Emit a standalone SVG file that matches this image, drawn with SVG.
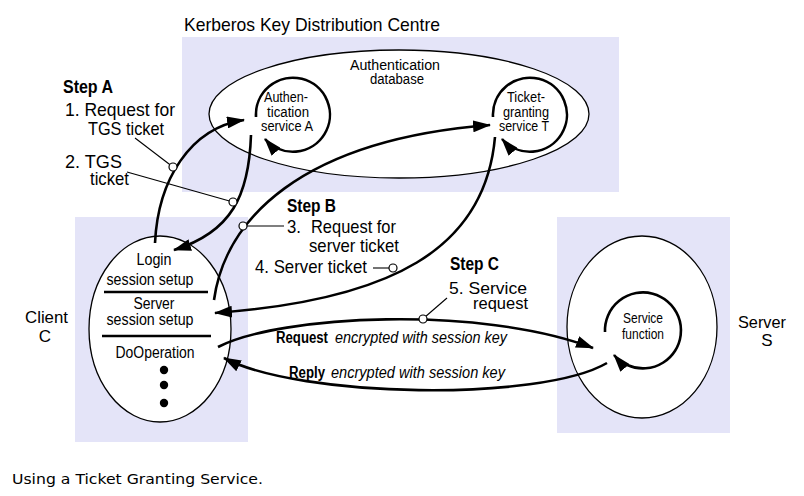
<svg xmlns="http://www.w3.org/2000/svg" width="804" height="496" viewBox="0 0 804 496">
<defs>
<marker id="ah" markerUnits="userSpaceOnUse" markerWidth="18" markerHeight="12" refX="17" refY="6" orient="auto">
<path d="M0,0 L18,6 L0,12 z" fill="#000"/>
</marker>
<style>
.box{fill:#e4e4f8;stroke:none}
.ell{fill:#fff;stroke:#000;stroke-width:1.3}
.arr{fill:none;stroke:#000;stroke-width:2.6;marker-end:url(#ah)}
.lead{fill:none;stroke:#000;stroke-width:1.1}
.sm{fill:#fff;stroke:#000;stroke-width:1.2}
text{font-family:"Liberation Sans",Arial,sans-serif;fill:#000}
.t19{font-size:19px}
.t17{font-size:17px}
.t16{font-size:16px}
.t14{font-size:14px}
.b{font-weight:bold}
.i{font-style:italic}
.mid{text-anchor:middle}
</style>
</defs>
<rect width="804" height="496" fill="#fff"/>

<g id="kdc">
<rect class="box" x="182" y="37" width="437" height="155"/>
<text class="t19" x="184" y="31" textLength="256" lengthAdjust="spacingAndGlyphs">Kerberos  Key Distribution Centre</text>
</g>
<g id="auth-db">
<ellipse class="ell" cx="399" cy="114" rx="190" ry="64"/>
<text class="t14 mid" x="395" y="70" textLength="90" lengthAdjust="spacingAndGlyphs">Authentication</text>
<text class="t14 mid" x="397" y="84" textLength="54" lengthAdjust="spacingAndGlyphs">database</text>
</g>
<g id="auth-service">
<text class="t14 mid" x="286" y="102" textLength="44" lengthAdjust="spacingAndGlyphs">Authen-</text>
<text class="t14 mid" x="288" y="117" textLength="42" lengthAdjust="spacingAndGlyphs">tication</text>
<text class="t14 mid" x="287" y="131" textLength="52" lengthAdjust="spacingAndGlyphs">service A</text>
<path class="arr" d="M256,117 A37,37 0 1 1 265,139"/>
</g>
<g id="tgs">
<text class="t14 mid" x="526" y="102" textLength="38" lengthAdjust="spacingAndGlyphs">Ticket-</text>
<text class="t14 mid" x="526" y="117" textLength="46" lengthAdjust="spacingAndGlyphs">granting</text>
<text class="t14 mid" x="524" y="131" textLength="50" lengthAdjust="spacingAndGlyphs">service T</text>
<path class="arr" d="M493,117 A37,37 0 1 1 502,139"/>
</g>

<g id="client">
<rect class="box" x="75" y="217" width="173" height="225"/>
<ellipse class="ell" cx="160" cy="329" rx="71" ry="93"/>
<text class="t16 mid" x="154" y="265" textLength="35" lengthAdjust="spacingAndGlyphs">Login</text>
<text class="t16 mid" x="150" y="285" textLength="87" lengthAdjust="spacingAndGlyphs">session setup</text>
<line x1="104" y1="292" x2="208" y2="292" stroke="#000" stroke-width="2.5"/>
<text class="t16 mid" x="154" y="309" textLength="41" lengthAdjust="spacingAndGlyphs">Server</text>
<text class="t16 mid" x="150" y="325" textLength="87" lengthAdjust="spacingAndGlyphs">session setup</text>
<line x1="102" y1="336" x2="211" y2="336" stroke="#000" stroke-width="2.5"/>
<text class="t16 mid" x="155" y="358" textLength="79" lengthAdjust="spacingAndGlyphs">DoOperation</text>
<circle cx="164" cy="370" r="4.2"/>
<circle cx="164" cy="385" r="4.2"/>
<circle cx="164" cy="403" r="4.2"/>
<text class="t17" x="25" y="323" textLength="43" lengthAdjust="spacingAndGlyphs">Client</text>
<text class="t17 mid" x="45" y="342">C</text>
</g>

<g id="server">
<rect class="box" x="557" y="217" width="173" height="216"/>
<ellipse class="ell" cx="642" cy="327" rx="75" ry="91"/>
<text class="t14 mid" x="643" y="323" textLength="40" lengthAdjust="spacingAndGlyphs">Service</text>
<text class="t14 mid" x="643" y="339" textLength="42" lengthAdjust="spacingAndGlyphs">function</text>
<path class="arr" d="M605,332 A38,38 0 1 1 614,355"/>
<text class="t17" x="738" y="328" textLength="48" lengthAdjust="spacingAndGlyphs">Server</text>
<text class="t17 mid" x="767" y="346">S</text>
</g>

<g id="connectors">
<path class="arr" d="M155,243 C158,180 190,128 244,120"/>
<path class="arr" d="M251,135 C249,195 232,232 174,250"/>
<path class="arr" d="M214,300 C225,220 300,140 490,125"/>
<path class="arr" d="M495,137 C485,250 390,300 215,313"/>
<path class="arr" d="M218,347 C280,315 480,305 593,348"/>
<path class="arr" d="M607,363 C540,402 300,398 224,358"/>
<line class="lead" x1="135" y1="138" x2="173" y2="167"/>
<line class="lead" x1="127" y1="172" x2="233" y2="202"/>
<line class="lead" x1="247" y1="226" x2="284" y2="226"/>
<line class="lead" x1="373" y1="268" x2="389" y2="268"/>
<line class="lead" x1="447" y1="298" x2="425" y2="317"/>
<circle class="sm" cx="173" cy="167" r="4"/>
<circle class="sm" cx="233" cy="202" r="4"/>
<circle class="sm" cx="243" cy="226" r="4"/>
<circle class="sm" cx="393" cy="268" r="4"/>
<circle class="sm" cx="423" cy="319" r="4"/>
</g>

<g id="step-a">
<text class="t19 b" x="63" y="93" textLength="50" lengthAdjust="spacingAndGlyphs">Step A</text>
<text class="t19" x="65" y="116" textLength="110" lengthAdjust="spacingAndGlyphs">1.  Request for</text>
<text class="t19" x="88" y="135" textLength="76" lengthAdjust="spacingAndGlyphs">TGS ticket</text>
<text class="t19" x="65" y="168" textLength="57" lengthAdjust="spacingAndGlyphs">2.  TGS</text>
<text class="t19" x="90" y="185" textLength="39" lengthAdjust="spacingAndGlyphs">ticket</text>
</g>
<g id="step-b">
<text class="t19 b" x="287" y="212" textLength="49" lengthAdjust="spacingAndGlyphs">Step B</text>
<text class="t19" x="287" y="233" textLength="14" lengthAdjust="spacingAndGlyphs">3.</text>
<text class="t19" x="311" y="233" textLength="85" lengthAdjust="spacingAndGlyphs">Request for</text>
<text class="t19" x="309" y="252" textLength="90" lengthAdjust="spacingAndGlyphs">server ticket</text>
<text class="t19" x="255" y="273" textLength="112" lengthAdjust="spacingAndGlyphs">4. Server ticket</text>
</g>
<g id="step-c">
<text class="t19 b" x="450" y="270" textLength="49" lengthAdjust="spacingAndGlyphs">Step C</text>
<text class="t17" x="449" y="294" textLength="78" lengthAdjust="spacingAndGlyphs">5.  Service</text>
<text class="t17" x="473" y="309" textLength="55" lengthAdjust="spacingAndGlyphs">request</text>
</g>
<g id="messages">
<text class="t16 b" x="276" y="343" textLength="52" lengthAdjust="spacingAndGlyphs">Request</text>
<text class="t16 i" x="335" y="343" textLength="172" lengthAdjust="spacingAndGlyphs">encrypted with session key</text>
<text class="t16 b" x="289" y="378" textLength="36" lengthAdjust="spacingAndGlyphs">Reply</text>
<text class="t16 i" x="331" y="378" textLength="174" lengthAdjust="spacingAndGlyphs">encrypted with session key</text>
</g>
<text x="12" y="484" style="font-family:'DejaVu Sans',Verdana,sans-serif;font-size:14px" textLength="251" lengthAdjust="spacingAndGlyphs">Using a Ticket Granting Service.</text>
</svg>
